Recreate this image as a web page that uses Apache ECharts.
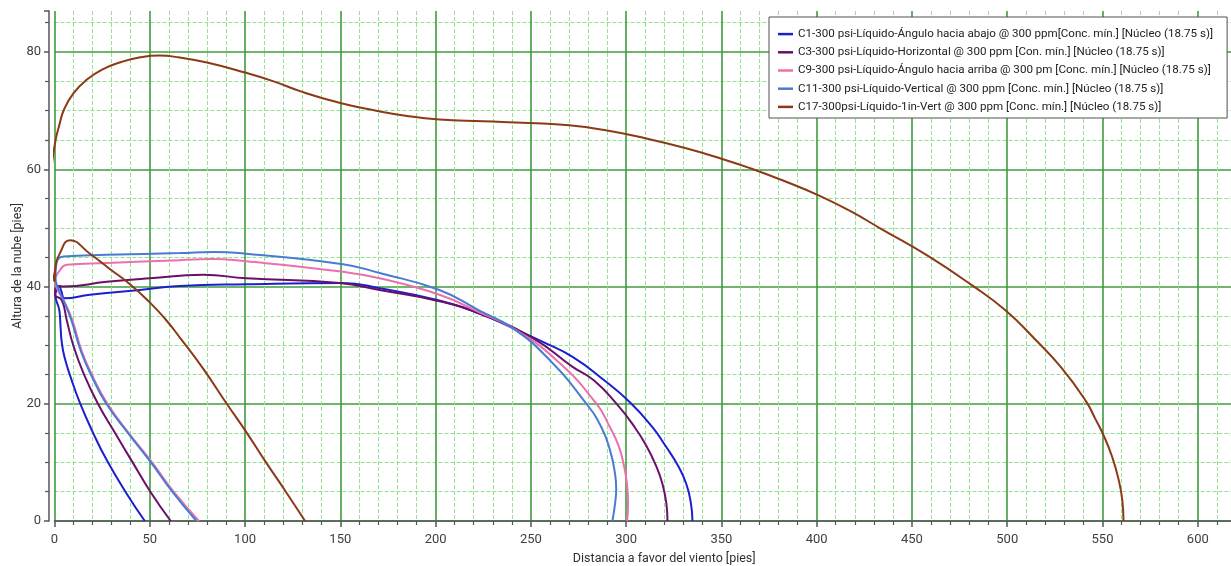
<!DOCTYPE html>
<html>
<head>
<meta charset="utf-8">
<script src="https://cdn.jsdelivr.net/npm/echarts@6/dist/echarts.min.js"></script>
<style>
  html, body { margin: 0; padding: 0; background: #fff; }
  #main { width: 1231px; height: 566px; }
</style>
</head>
<body>
<div id="main"></div>
<script>
// nombres de la leyenda
var seriesNames = [
    'C1-300 psi-Líquido-Ángulo hacia abajo @ 300 ppm[Conc. mín.] [Núcleo (18.75 s)]',
    'C3-300 psi-Líquido-Horizontal @ 300 ppm [Con. mín.] [Núcleo (18.75 s)]',
    'C9-300 psi-Líquido-Ángulo hacia arriba @ 300 pm [Conc. mín.] [Núcleo (18.75 s)]',
    'C11-300 psi-Líquido-Vertical @ 300 ppm [Conc. mín.] [Núcleo (18.75 s)]',
    'C17-300psi-Líquido-1in-Vert @ 300 ppm [Conc. mín.] [Núcleo (18.75 s)]'
];
var seriesColors = ['#1c1fcf', '#6c0f6a', '#ec6fae', '#4a7bd3', '#8b3a16'];

// contornos [distancia, altura]
var c1Data = [[47.4, 0], [37.8, 4.7], [27.4, 10.4], [20.3, 15], [13.4, 20.1], [8.5, 24.5], [5.2, 28], [3.8, 30.5], [3.2, 33], [2.5, 36], [0.5, 38.5],
    [1.5, 39.8], [2.5, 40.1], [3.5, 39.3], [5.5, 38.0], [18.6, 38.6], [44.8, 39.4], [65.8, 40.1], [100.7, 40.4], [151.4, 40.6],
    [170.6, 39.7], [202, 37.6], [223, 35.4], [240.5, 32.9], [256, 30.6], [271.9, 28.0], [288.5, 24], [302.5, 20.1], [313.8, 16],
    [320.9, 12.7], [327.1, 9.5], [331.5, 6.4], [334, 3], [334.8, 0]];
var c3Data = [[61, 0], [50.3, 5], [41, 10], [31.8, 15], [22.8, 20], [15.5, 25], [10, 29.8], [6.4, 34.3], [3.8, 37.7], [0.3, 38.6],
    [1.1, 40.1], [4.6, 40.0], [27.4, 40.8], [50, 41.4], [78, 42.0], [100.7, 41.4], [149.6, 40.6], [170.6, 39.4], [202, 37.5],
    [223, 35.4], [251, 31.2], [271.9, 26.3], [283, 24], [294.7, 20.1], [304.5, 16], [310.8, 12.7], [315.6, 9.5], [319, 6.4],
    [321.1, 3], [321.7, 0]];
var c9Data = [[75.8, 0], [62.5, 5], [51.2, 10], [39, 15], [27.8, 20], [20.3, 24.5], [14.3, 29], [9.3, 34.3], [5, 37.5], [1.5, 39.5], [0.3, 40.8],
    [2.9, 42.8], [6.4, 43.7], [27.4, 44.0], [65.8, 44.5], [81.5, 44.7], [100.7, 44.3], [151.4, 42.5], [170.6, 41.4], [202, 38.6],
    [223, 35.6], [240.5, 32.9], [263.2, 27.5], [284.2, 20.1], [291.5, 16], [296.2, 12.7], [298.8, 9.5], [300.4, 6.4], [301, 3], [300.5, 0]];
var c11Data = [[74.5, 0], [61.8, 5], [50.6, 10], [38.6, 15], [27.2, 20], [19.8, 24.5], [13.8, 29], [8.8, 34.3], [4.5, 37.8], [1.5, 40], [0.5, 41.5],
    [1.1, 44], [4.6, 45.1], [27.4, 45.4], [65.8, 45.7], [83.2, 45.9], [100.7, 45.6], [151.4, 43.8], [170.6, 42.3], [202, 39.4],
    [223, 35.9], [240.5, 32.9], [259.7, 27.5], [278.9, 20.1], [287, 16], [291.6, 12], [294.2, 8], [294.8, 5.5], [294.2, 3], [292.8, 0]];
var c17Data = [[131.5, 0], [121.4, 5], [111, 10], [101, 15], [90.4, 20], [78, 26], [66, 31.2], [58, 34.5], [50, 37.3], [39.6, 40.4],
    [29, 43], [18.6, 45.6], [8.1, 47.9], [2.9, 45.7], [0.3, 42.8], [0, 40.9], [-1.6, 43.5], [-2.3, 48], [-2.4, 55], [-1.6, 60],
    [0.3, 64.5], [2.5, 67.5], [5, 70.2], [10, 73], [17, 75.3], [25, 77], [35, 78.3], [45, 79.1], [55, 79.4], [65, 79.1],
    [80, 78.2], [100, 76.5], [115, 75], [130, 73.2], [150, 71.3], [167, 70.1], [185, 69.1], [202, 68.5], [225, 68.2],
    [249, 67.9], [270, 67.5], [290, 66.6], [310, 65.3], [330, 63.7], [350, 61.8], [365, 60.2], [383, 58], [401.3, 55.5],
    [418, 52.8], [434, 49.8], [458, 45.3], [482, 40.1], [499.2, 35.9], [514.6, 31], [528.3, 26.2], [541.2, 20.5], [546.1, 17.5],
    [551, 14.3], [555, 11], [558.2, 7.4], [560.4, 3.5], [561, 0]];
var allData = [c1Data, c3Data, c9Data, c11Data, c17Data];

var chart = echarts.init(document.getElementById('main'), null, { renderer: 'canvas' });

var axisFont = { color: '#404040', fontSize: 13, fontFamily: 'Roboto' };

var option = {
    backgroundColor: '#ffffff',
    animation: false,
    grid: { left: 54.5, right: -43, top: 11, bottom: 45, containLabel: false, outerBoundsMode: 'none' },
    legend: {
        orient: 'vertical',
        left: 769,
        top: 17,
        backgroundColor: '#ffffff',
        borderColor: '#505050',
        borderWidth: 1,
        borderRadius: 0,
        padding: [10, 14, 4, 9],
        itemGap: 4,
        itemWidth: 15,
        itemHeight: 2.5,
        icon: 'rect',
        textStyle: { color: '#222', fontSize: 11.6, fontFamily: 'Roboto', lineHeight: 14.2 },
        data: seriesNames
    },
    xAxis: {
        type: 'value',
        min: 0,
        max: 640,
        interval: 50,
        name: 'Distancia a favor del viento [pies]',
        nameLocation: 'middle',
        nameGap: 31,
        nameMoveOverlap: false,
        nameTextStyle: { color: '#303030', fontSize: 12.5, fontFamily: 'Roboto' },
        axisLine: { onZero: false, lineStyle: { color: '#555', width: 1.5 } },
        axisTick: { show: true, length: 6, lineStyle: { color: '#555', width: 1.5 } },
        minorTick: { show: true, splitNumber: 5, length: 4, lineStyle: { color: '#555', width: 1.2 } },
        axisLabel: Object.assign({ margin: 12, showMaxLabel: false }, axisFont),
        splitLine: { show: true, lineStyle: { color: '#3f9c3f', width: 1.6 } },
        minorSplitLine: { show: true, lineStyle: { color: '#93e293', width: 1, type: [4, 2] } }
    },
    yAxis: {
        type: 'value',
        min: 0,
        max: 87,
        interval: 20,
        offset: 5.5,
        name: 'Altura de la nube [pies]',
        nameLocation: 'middle',
        nameGap: 25,
        nameRotate: 90,
        nameMoveOverlap: false,
        nameTextStyle: { color: '#303030', fontSize: 12.5, fontFamily: 'Roboto' },
        axisLine: { show: true, onZero: false, lineStyle: { color: '#555', width: 1.5 } },
        axisTick: { show: true, length: 5, lineStyle: { color: '#555', width: 1.5 } },
        minorTick: { show: true, splitNumber: 4, length: 4, lineStyle: { color: '#555', width: 1.2 } },
        axisLabel: Object.assign({ margin: 8, showMaxLabel: false }, axisFont),
        splitLine: { show: true, showMaxLine: false, lineStyle: { color: '#3f9c3f', width: 1.6 } },
        minorSplitLine: { show: true, lineStyle: { color: '#93e293', width: 1, type: [4, 2] } }
    },
    series: seriesNames.map(function (name, i) {
        return {
            name: name,
            type: 'line',
            data: allData[i],
            showSymbol: false,
            smooth: 0.5,
            clip: false,
            color: seriesColors[i],
            lineStyle: { width: 2, color: seriesColors[i] },
            z: 3 + i
        };
    })
};

chart.setOption(option);
</script>
</body>
</html>
